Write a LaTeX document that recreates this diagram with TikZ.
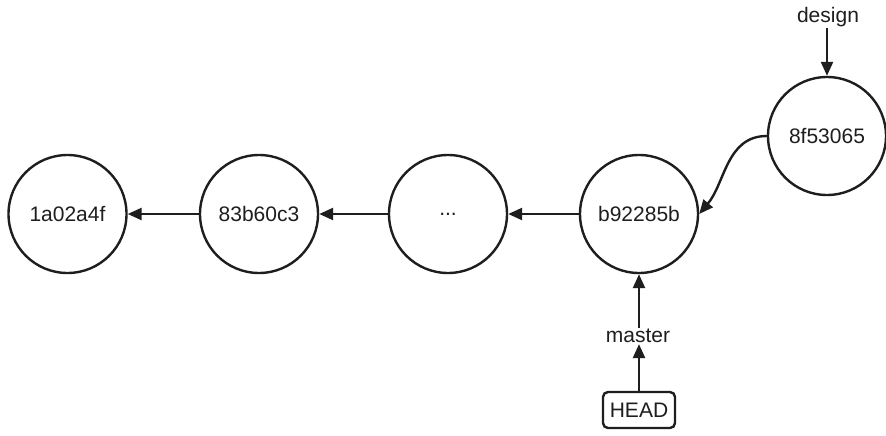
\documentclass[tikz,border=0pt]{standalone}
\usepackage{fontspec}
\setmainfont{Liberation Sans}
\usetikzlibrary{arrows.meta}
\definecolor{ink}{HTML}{1E1E1E}
\begin{document}
\begin{tikzpicture}[x=1pt,y=-1pt,
  commit/.style={circle,draw=ink,line width=2.4pt,minimum size=118pt,inner sep=0pt,
    font=\fontsize{21}{25}\selectfont,text=ink},
  lbl/.style={font=\fontsize{21}{25}\selectfont,text=ink,inner sep=1pt},
  headbox/.style={draw=ink,line width=2.4pt,rounded corners=5pt,minimum width=72pt,minimum height=36pt,
    inner sep=2pt,font=\fontsize{21}{25}\selectfont,text=ink},
  conn/.style={draw=ink,line width=2.4pt,-{Triangle[length=14pt,width=12pt]}}]
\useasboundingbox[fill=white] (0,0) rectangle (886,436);
\node[commit] (c1) at (67.5,214) {1a02a4f};
\node[commit] (c2) at (259,214) {83b60c3};
\node[commit] (c3) at (448,214) {...};
\node[commit] (c4) at (639,214) {b92285b};
\node[commit] (c5) at (827,136) {8f53065};
\node[lbl] (design) at (828,17) {design};
\node[lbl] (master) at (638,336) {master};
\node[headbox] (head) at (639,410) {HEAD};
\draw[conn] (c2) -- (c1);
\draw[conn] (c3) -- (c2);
\draw[conn] (c4) -- (c3);
\draw[conn] (c5.west) to[out=180,in=50] (c4.east);
\draw[conn] (design.south -| c5.north) -- (c5.north);
\draw[conn] (master.north -| c4.south) -- (c4.south);
\draw[conn] (head.north) -- (master.south -| head.north);
\end{tikzpicture}
\end{document}
